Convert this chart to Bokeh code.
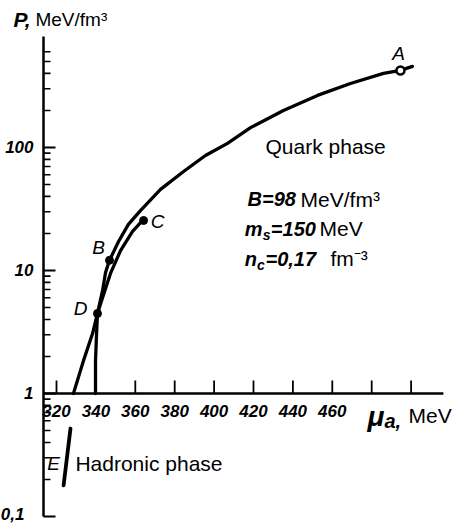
from bokeh.plotting import figure
from bokeh.models import Range1d, Label
from bokeh.core.properties import value
from bokeh.embed import file_html
from bokeh.resources import INLINE

# ---------------- data ----------------
# quark-phase curve through D, B towards A
quark_mu = [328.6, 333.7, 338.3, 340.8, 343.4, 344.9, 346.9, 351.5, 356.5, 362.6,
            372.8, 384.5, 395.6, 406.8, 418.5, 435.2, 452.5, 469.2, 486.0, 494.6, 500.7]
quark_p = [1.0, 1.85, 3.07, 4.47, 6.88, 9.63, 12.1, 17.2, 23.7, 30.7,
           45.6, 63.8, 86.1, 108, 145, 200, 265, 331, 400, 423, 456]
# inner curve from the mu axis through D to C
inner_mu = [339.8, 339.8, 340.3, 340.8, 343.4, 347.4, 352.5, 358.6, 364.2]
inner_p = [1.0, 1.85, 2.96, 4.47, 6.03, 9.46, 14.5, 20.8, 26.0]
# hadronic phase segment E
hadron_mu = [327.1, 323.6]
hadron_p = [0.519, 0.179]
# marked points
filled_mu = [346.9, 364.2, 340.8]      # B, C, D
filled_p = [12.1, 25.5, 4.47]
open_mu = [494.6]                      # A
open_p = [423]
# axis ticks
x_ticks = [320, 340, 360, 380, 400, 420, 440, 460, 480, 500]
x_label_vals = [320, 340, 360, 380, 400, 420, 440, 460]
x_label_text = ["320", "340", "360", "380", "400", "420", "440", "460"]
y_major = [1, 10, 100]
y_major_text = ["1", "10", "100"]
y_bottom = [0.1]
y_bottom_text = ["0,1"]
y_minor = [0.2, 0.3, 0.4, 0.5, 0.6, 0.7, 0.8, 0.9,
           2, 3, 4, 5, 6, 7, 8, 9,
           20, 30, 40, 50, 60, 70, 80, 90,
           200, 300, 400, 500, 600]
y_axis_top = 800
mu_axis_end = 516.4

FONT = "Liberation Sans"
X0 = 313.4            # where the P axis stands (mu units)
PX = 1.97             # pixels per MeV on the mu scale

p = figure(width=452, height=527,
           x_range=Range1d(291.57, 521.02), y_range=Range1d(0.08137, 1566.3),
           y_axis_type="log", x_axis_location=None, y_axis_location=None,
           output_backend="svg", toolbar_location=None,
           min_border_left=0, min_border_right=0, min_border_top=0, min_border_bottom=0)
p.outline_line_color = None
p.grid.grid_line_color = None
p.background_fill_color = "white"
p.border_fill_color = "white"

K = dict(line_color="black")

# ---- P axis (log) ----
p.segment(x0=[X0], y0=[y_bottom[0]], x1=[X0], y1=[y_axis_top], line_width=2.5, **K)
majors = y_bottom + y_major
p.segment(x0=[X0] * len(majors), y0=majors, x1=[X0 + 12 / PX] * len(majors), y1=majors,
          line_width=2, **K)
p.segment(x0=[X0] * len(y_minor), y0=y_minor, x1=[X0 + 7 / PX] * len(y_minor), y1=y_minor,
          line_width=1.6, **K)
p.text(x=[X0] * len(y_major), y=y_major, text=y_major_text, x_offset=-10,
       text_font=value(FONT), text_font_style="bold italic", text_font_size="17px",
       text_align="right", text_baseline="middle", text_color="black")
p.text(x=[X0] * len(y_bottom), y=y_bottom, text=y_bottom_text, x_offset=-19, y_offset=-2,
       text_font=value(FONT), text_font_style="bold italic", text_font_size="17px",
       text_align="right", text_baseline="middle", text_color="black")

# ---- mu axis drawn at P = 1 ----
p.segment(x0=[X0], y0=[1], x1=[mu_axis_end], y1=[1], line_width=2.5, **K)
p.segment(x0=x_ticks, y0=[1] * len(x_ticks), x1=x_ticks, y1=[1.275] * len(x_ticks),
          line_width=1.8, **K)
p.text(x=x_label_vals, y=[1] * len(x_label_vals), text=x_label_text, y_offset=18,
       text_font=value(FONT), text_font_style="bold italic", text_font_size="17px",
       text_align="center", text_baseline="middle", text_color="black")

# ---- curves ----
p.line(quark_mu, quark_p, line_width=3.3, line_cap="round", line_join="round", **K)
p.line(inner_mu, inner_p, line_width=3.3, line_cap="round", line_join="round", **K)
p.line(hadron_mu, hadron_p, line_width=3.8, line_cap="round", **K)

# ---- points ----
p.scatter(filled_mu, filled_p, size=8, marker="circle", fill_color="black", **K)
p.scatter(open_mu, open_p, size=8, marker="circle", fill_color="white", line_width=2.5, **K)


def lab(x, y, text, size, style="normal", align="left"):
    p.add_layout(Label(x=x, y=y, text=text, text_font=FONT, text_font_size=f"{size}px",
                       text_font_style=style, text_align=align, text_baseline="middle",
                       text_color="black"))


# axis titles
lab(298.2, 1098, "P,", 21, "bold italic")
lab(309.3, 1098, "MeV/fm³", 19)
lab(477.9, 0.650, "μ", 28, "bold italic")
lab(486.5, 0.603, "a,", 20, "bold italic")
lab(498.7, 0.662, "MeV", 21)

# point labels
lab(493.6, 581, "A", 19, "italic", "center")
lab(341.3, 15.4, "B", 19, "italic", "center")
lab(371.3, 25.0, "C", 19, "italic", "center")
lab(332.2, 4.91, "D", 19, "italic", "center")
lab(318.5, 0.270, "E", 19, "italic", "center")

# phase labels
lab(426.1, 102, "Quark phase", 21)
lab(329.6, 0.270, "Hadronic phase", 21)

# parameters
lab(417.0, 37.8, "B=98", 20, "bold italic")
lab(443.9, 37.8, "MeV/fm³", 21)
lab(415.5, 21.9, "m", 20, "bold italic")
lab(424.7, 19.3, "s", 14, "bold italic")
lab(428.8, 21.9, "=150", 20, "bold italic")
lab(453.5, 21.9, "MeV", 21)
lab(415.5, 12.5, "n", 20, "bold italic")
lab(421.8, 11.0, "c", 14, "bold italic")
lab(426.1, 12.5, "=0,17", 20, "bold italic")
lab(459.1, 12.5, "fm\u207b\u00b3", 21)

open("out.html", "w").write(file_html(p, INLINE))
